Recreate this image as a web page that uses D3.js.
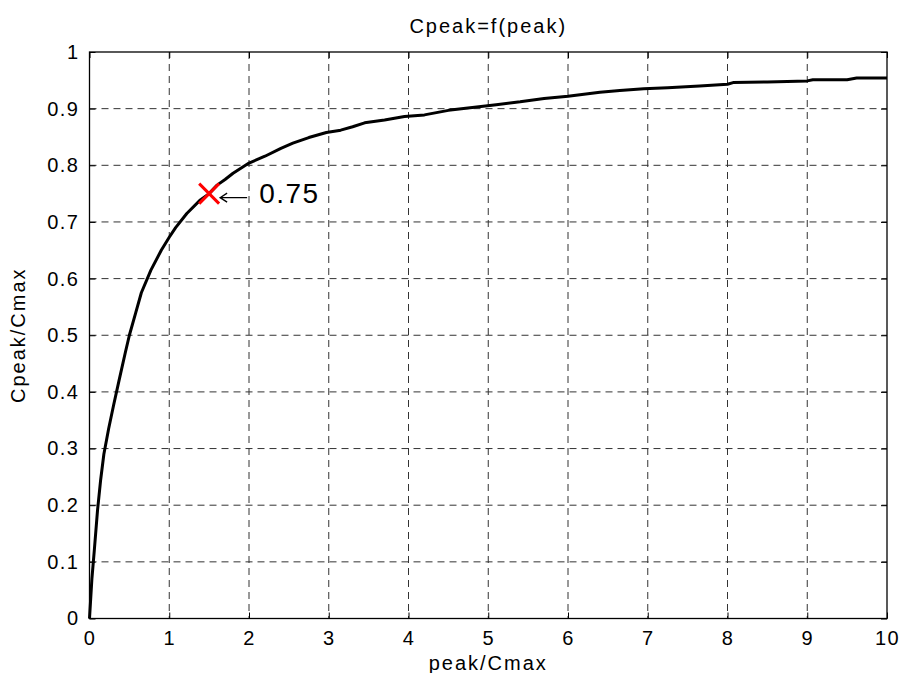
<!DOCTYPE html>
<html>
<head>
<meta charset="utf-8">
<script src="https://cdn.jsdelivr.net/npm/d3@7"></script>
<style>
    body { margin: 0; background: #ffffff; }
    text { font-family: "Liberation Sans", Arial, Helvetica, sans-serif; fill: #000000; }
    .tick-label { font-size: 20px; letter-spacing: 1.5px; }
    .axis-title { font-size: 20px; letter-spacing: 2px; }
    .grid line { stroke: #333333; stroke-width: 1; stroke-dasharray: 7,5; }
</style>
</head>
<body>
<div id="chart"></div>
<script>
// Curve values
const peakRatio = [0, 0.03, 0.06, 0.1, 0.14, 0.18, 0.24, 0.3, 0.37, 0.45,
    0.5, 0.58, 0.65, 0.77, 0.9, 1.0, 1.08, 1.22, 1.39, 1.5,
    1.6, 1.7, 1.8, 2.0, 2.2, 2.4, 2.55, 2.75, 2.97, 3.15,
    3.3, 3.45, 3.7, 3.95, 4.2, 4.5, 4.8, 5.1, 5.4, 5.7,
    6.0, 6.4, 6.65, 6.95, 7.25, 7.65, 8.0, 8.07, 8.5, 9.0,
    9.07, 9.5, 9.62, 10];
const cpeakRatio = [0, 0.07, 0.12, 0.19, 0.245, 0.29, 0.335, 0.375, 0.42, 0.47,
    0.5, 0.54, 0.575, 0.615, 0.65, 0.673, 0.69, 0.715, 0.739, 0.75,
    0.765, 0.775, 0.786, 0.804, 0.816, 0.83, 0.839, 0.849, 0.858, 0.862,
    0.868, 0.875, 0.88, 0.886, 0.889, 0.897, 0.902, 0.907, 0.912, 0.918,
    0.922, 0.929, 0.932, 0.935, 0.937, 0.94, 0.943, 0.946, 0.947, 0.949,
    0.951, 0.951, 0.954, 0.954];

const xTicks = [0, 1, 2, 3, 4, 5, 6, 7, 8, 9, 10];
const yTicks = [0, 0.1, 0.2, 0.3, 0.4, 0.5, 0.6, 0.7, 0.8, 0.9, 1];

// marked point and its label
const markPoint = { x: 1.5, y: 0.75, label: '0.75' };

const titleText = 'Cpeak=f(peak)';
const xLabelText = 'peak/Cmax';
const yLabelText = 'Cpeak/Cmax';

const width = 900;
const height = 673;
const margin = { top: 52, right: 13, bottom: 54.5, left: 89.5 };
const boundedWidth = width - margin.left - margin.right;
const boundedHeight = height - margin.top - margin.bottom;

const svg = d3.select('#chart')
    .append('svg')
    .attr('width', width)
    .attr('height', height);

const bounds = svg.append('g')
    .attr('transform', `translate(${margin.left}, ${margin.top})`);

const xScale = d3.scaleLinear().domain([0, 10]).range([0, boundedWidth]);
const yScale = d3.scaleLinear().domain([0, 1]).range([boundedHeight, 0]);

// Grid lines (dashed, MATLAB style)
const xGrid = bounds.append('g').attr('class', 'grid');
xGrid.selectAll('line')
    .data(xTicks.slice(1, -1))
    .join('line')
    .attr('x1', d => xScale(d)).attr('x2', d => xScale(d))
    .attr('y1', 0).attr('y2', boundedHeight);

const yGrid = bounds.append('g').attr('class', 'grid');
yGrid.selectAll('line')
    .data(yTicks.slice(1, -1))
    .join('line')
    .attr('y1', d => yScale(d)).attr('y2', d => yScale(d))
    .attr('x1', 0).attr('x2', boundedWidth);

// Axes with inward ticks on all four sides
const xAxisBottom = d3.axisBottom(xScale).tickValues(xTicks).tickSize(-6).tickPadding(12).tickFormat(d3.format('d'));
const xAxisTop = d3.axisTop(xScale).tickValues(xTicks).tickSize(-6).tickFormat('');
const yAxisLeft = d3.axisLeft(yScale).tickValues(yTicks).tickSize(-6).tickPadding(10).tickFormat(d => d3.format('')(d));
const yAxisRight = d3.axisRight(yScale).tickValues(yTicks).tickSize(-6).tickFormat('');

function styleAxis(g) {
    g.select('.domain').remove();
    g.selectAll('.tick line').attr('stroke', '#000').attr('stroke-width', 1);
    g.selectAll('.tick text')
        .attr('class', 'tick-label')
        .attr('fill', '#000');
    g.attr('font-size', null).attr('font-family', null);
}

bounds.append('g')
    .attr('transform', `translate(0, ${boundedHeight})`)
    .call(xAxisBottom)
    .call(styleAxis);
bounds.append('g').call(xAxisTop).call(styleAxis);
bounds.append('g').call(yAxisLeft).call(styleAxis);
bounds.append('g')
    .attr('transform', `translate(${boundedWidth}, 0)`)
    .call(yAxisRight)
    .call(styleAxis);

// Box
bounds.append('rect')
    .attr('width', boundedWidth)
    .attr('height', boundedHeight)
    .attr('fill', 'none')
    .attr('stroke', '#000')
    .attr('stroke-width', 1.3);

// The curve
const line = d3.line()
    .x((d, i) => xScale(peakRatio[i]))
    .y(d => yScale(d));

bounds.append('path')
    .datum(cpeakRatio)
    .attr('fill', 'none')
    .attr('stroke', '#000')
    .attr('stroke-width', 3)
    .attr('stroke-linejoin', 'round')
    .attr('d', line);

// Red cross marker
const mx = xScale(markPoint.x);
const my = yScale(markPoint.y);
bounds.append('path')
    .attr('d', d3.symbol(d3.symbolX, 260)())
    .attr('transform', `translate(${mx}, ${my})`)
    .attr('fill', 'none')
    .attr('stroke', '#ff0000')
    .attr('stroke-width', 3);

// Arrow + label
const ax = mx + 11;
const ay = my + 4;
bounds.append('path')
    .attr('d', `M${ax + 27},${ay} L${ax},${ay} M${ax + 7},${ay - 4.5} L${ax},${ay} L${ax + 7},${ay + 4.5}`)
    .attr('fill', 'none')
    .attr('stroke', '#000')
    .attr('stroke-width', 1.3);

bounds.append('text')
    .attr('x', ax + 39)
    .attr('y', ay + 5)
    .style('font-size', '28px')
    .style('letter-spacing', '1.5px')
    .text(markPoint.label);

// Title and axis labels
svg.append('text')
    .attr('class', 'axis-title')
    .attr('x', margin.left + boundedWidth / 2)
    .attr('y', 33)
    .attr('text-anchor', 'middle')
    .text(titleText);

svg.append('text')
    .attr('class', 'axis-title')
    .attr('x', margin.left + boundedWidth / 2)
    .attr('y', 670)
    .attr('text-anchor', 'middle')
    .text(xLabelText);

svg.append('text')
    .attr('class', 'axis-title')
    .attr('transform', 'rotate(-90)')
    .attr('x', -(margin.top + boundedHeight / 2))
    .attr('y', 25)
    .attr('text-anchor', 'middle')
    .text(yLabelText);
</script>
</body>
</html>
